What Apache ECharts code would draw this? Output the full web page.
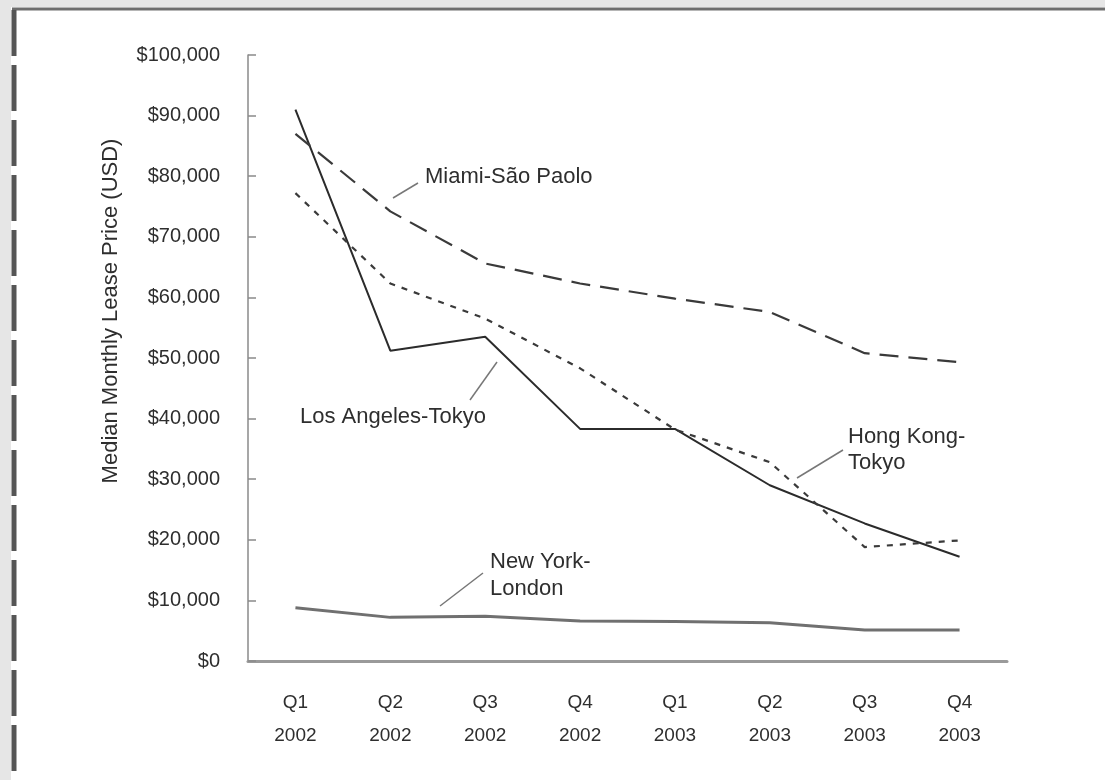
<!DOCTYPE html>
<html>
<head>
<meta charset="utf-8">
<script src="https://cdn.jsdelivr.net/npm/echarts@6/dist/echarts.min.js"></script>
<style>
  html, body { margin: 0; padding: 0; background: #fff; }
  #chart { width: 1105px; height: 780px; }
</style>
</head>
<body>
<div id="chart"></div>
<script>
// 季度
const quarters = ['Q1\n2002', 'Q2\n2002', 'Q3\n2002', 'Q4\n2002', 'Q1\n2003', 'Q2\n2003', 'Q3\n2003', 'Q4\n2003'];

// 各航线月租中位数 (USD)
const losAngelesTokyo = [91000, 51200, 53500, 38300, 38300, 29000, 22700, 17200];
const miamiSaoPaolo = [87000, 74200, 65600, 62300, 59800, 57600, 50800, 49300];
const hongKongTokyo = [77200, 62300, 56500, 48300, 38200, 32800, 18800, 19900];
const newYorkLondon = [8800, 7200, 7400, 6600, 6500, 6300, 5100, 5100];

const yTicks = [0, 10000, 20000, 30000, 40000, 50000, 60000, 70000, 80000, 90000, 100000];

const font = "'Liberation Sans', Arial, sans-serif";
const textColor = '#2e2e2e';

const myChart = echarts.init(document.getElementById('chart'));

const option = {
  backgroundColor: '#ffffff',
  animation: false,
  grid: { left: 248, right: 98, top: 55, bottom: 119 },
  xAxis: {
    type: 'category',
    data: quarters,
    boundaryGap: true,
    axisLine: { lineStyle: { color: '#9a9a9a', width: 3 } },
    axisTick: { show: false },
    axisLabel: { color: textColor, fontFamily: font, fontSize: 19, lineHeight: 33, margin: 25 },
  },
  yAxis: {
    type: 'value',
    min: yTicks[0],
    max: yTicks[yTicks.length - 1],
    interval: 10000,
    axisLine: { show: true, lineStyle: { color: '#8a8a8a', width: 1.5 } },
    axisTick: { show: true, inside: true, length: 8, lineStyle: { color: '#8a8a8a', width: 1.5 } },
    splitLine: { show: false },
    axisLabel: {
      color: textColor,
      fontFamily: font,
      fontSize: 20,
      margin: 28,
      formatter: v => '$' + v.toLocaleString('en-US'),
    },
  },
  series: [
    {
      name: 'Los Angeles-Tokyo',
      type: 'line',
      data: losAngelesTokyo,
      symbol: 'none',
      lineStyle: { color: '#2b2b2b', width: 2 },
    },
    {
      name: 'Miami-São Paolo',
      type: 'line',
      data: miamiSaoPaolo,
      symbol: 'none',
      lineStyle: { color: '#3a3a3a', width: 2.2, type: [19, 10] },
    },
    {
      name: 'Hong Kong-Tokyo',
      type: 'line',
      data: hongKongTokyo,
      symbol: 'none',
      lineStyle: { color: '#3a3a3a', width: 2.2, type: [6, 7] },
    },
    {
      name: 'New York-London',
      type: 'line',
      data: newYorkLondon,
      symbol: 'none',
      lineStyle: { color: '#707070', width: 3 },
    },
  ],
  graphic: [
    // 外框
    { type: 'rect', shape: { x: 0, y: 0, width: 1105, height: 7 }, style: { fill: '#e6e6e6' } },
    { type: 'rect', shape: { x: 0, y: 0, width: 11, height: 780 }, style: { fill: '#e6e6e6' } },
    { type: 'line', shape: { x1: 12, y1: 9, x2: 1105, y2: 9 }, style: { stroke: '#6e6e6e', lineWidth: 3 } },
    { type: 'line', shape: { x1: 14, y1: 10, x2: 14, y2: 780 }, style: { stroke: '#555', lineWidth: 5, lineDash: [46, 9] } },
    // Y 轴标题
    {
      type: 'text', x: 111, y: 311, rotation: Math.PI / 2,
      style: { text: 'Median Monthly Lease Price (USD)', fill: textColor, font: `22px ${font}`, align: 'center', verticalAlign: 'middle' },
    },
    // 标注文字
    { type: 'text', left: 425, top: 166, style: { text: 'Miami-São Paolo', fill: textColor, font: `22px ${font}` } },
    { type: 'text', left: 300, top: 406, style: { text: 'Los Angeles-Tokyo', fill: textColor, font: `22px ${font}` } },
    { type: 'text', left: 848, top: 424, style: { text: 'Hong Kong-\nTokyo', fill: textColor, font: `22px ${font}`, lineHeight: 26 } },
    { type: 'text', left: 490, top: 548, style: { text: 'New York-\nLondon', fill: textColor, font: `22px ${font}`, lineHeight: 27 } },
    // 指引线
    { type: 'line', shape: { x1: 393, y1: 198, x2: 418, y2: 183 }, style: { stroke: '#777', lineWidth: 1.5 } },
    { type: 'line', shape: { x1: 470, y1: 400, x2: 497, y2: 362 }, style: { stroke: '#777', lineWidth: 1.5 } },
    { type: 'line', shape: { x1: 797, y1: 478, x2: 843, y2: 450 }, style: { stroke: '#777', lineWidth: 1.5 } },
    { type: 'line', shape: { x1: 440, y1: 606, x2: 483, y2: 573 }, style: { stroke: '#777', lineWidth: 1.5 } },
  ],
};

myChart.setOption(option);

window.addEventListener('resize', () => myChart.resize());
</script>
</body>
</html>
